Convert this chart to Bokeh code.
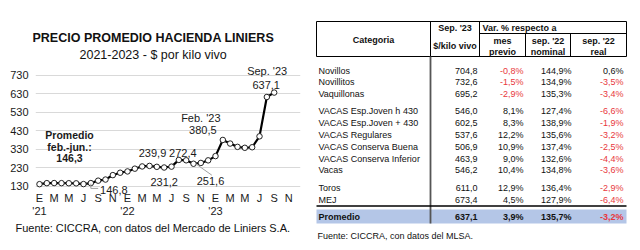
from bokeh.plotting import figure
from bokeh.layouts import row
from bokeh.models import Range1d, FixedTicker, Label, ColumnDataSource, LinearAxis, Title
from bokeh.core.properties import value
from bokeh.embed import file_html
from bokeh.resources import INLINE

FONT = "Liberation Sans"

# ---------------- chart data ----------------
meses = list(range(33))  # Jan 2021 .. Sep 2023
precio = [141.0, 146.5, 147.0, 146.5, 146.0, 145.5, 141.5, 146.8, 160.0, 166.0, 190.0, 203.0,
          210.0, 225.0, 237.0, 239.9, 235.0, 231.2, 236.0, 272.4, 270.3, 251.6, 256.0, 270.0,
          293.0, 380.5, 361.0, 343.0, 338.0, 341.0, 400.0, 613.2, 637.1]
x_ticks = list(range(0, 36, 2))
x_tick_labels = ["E", "M", "M", "J", "S", "N",
                 "E", "M", "M", "J", "S", "N",
                 "E", "M", "M", "J", "S", "N"]
year_ticks = [0, 12, 24]
year_labels = ["'21", "'22", "'23"]
y_ticks = [130, 230, 330, 430, 530, 630, 730]

# ---------------- table data ----------------
categorias = ["Novillos", "Novillitos", "Vaquillonas",
              "VACAS Esp.Joven h 430", "VACAS Esp.Joven + 430", "VACAS Regulares",
              "VACAS Conserva Buena", "VACAS Conserva Inferior", "Vacas",
              "Toros", "MEJ"]
grupos = [0, 0, 0, 1, 1, 1, 1, 1, 1, 2, 2]
kilo_vivo = [704.8, 732.6, 695.2, 546.0, 602.5, 537.6, 506.9, 463.9, 546.2, 611.0, 673.4]
mes_previo = [-0.8, -1.5, -2.9, 8.1, 8.3, 12.2, 10.9, 9.0, 10.4, 12.9, 4.5]
nominal = [144.9, 134.9, 135.3, 127.4, 138.9, 135.6, 137.4, 132.6, 134.8, 136.4, 127.9]
real = [0.6, -3.5, -3.4, -6.6, -1.9, -3.2, -2.5, -4.4, -3.6, -2.9, -6.4]
promedio = ["Promedio", 637.1, 3.9, 135.7, -3.2]

RED = "#e8383d"
H = 250

# ======================= CHART =======================
FL, FR, FT, FBM = 35, 10, 62, 54      # borders around the chart frame

p = figure(width=310, height=H, output_backend="svg", toolbar_location=None,
           x_range=Range1d(-0.545, 35.59), y_range=Range1d(74.2, 800),
           min_border_left=FL, min_border_right=FR, min_border_top=FT, min_border_bottom=FBM,
           title_location=None)
p.frame_align = False
p.outline_line_color = None
p.background_fill_color = "white"
p.border_fill_color = "white"
p.xgrid.visible = False
p.ygrid.ticker = FixedTicker(ticks=y_ticks)
p.ygrid.grid_line_color = "#d9d9d9"
p.ygrid.grid_line_width = 1

year_axis = LinearAxis(ticker=FixedTicker(ticks=year_ticks),
                       major_label_overrides={t: l for t, l in zip(year_ticks, year_labels)})
p.add_layout(year_axis, "below")

for ax in (p.xaxis[0], p.yaxis[0], year_axis):
    ax.axis_line_color = None
    ax.major_tick_line_color = None
    ax.minor_tick_line_color = None
    ax.major_tick_out = 0
    ax.major_tick_in = 0
    ax.minor_tick_out = 0
    ax.minor_tick_in = 0
    ax.major_label_text_font = FONT
    ax.major_label_text_font_size = "11px"
    ax.major_label_text_color = "#1a1a1a"
p.yaxis.ticker = FixedTicker(ticks=y_ticks)
p.yaxis.major_label_standoff = 7
p.xaxis[0].ticker = FixedTicker(ticks=x_ticks)
p.xaxis[0].major_label_overrides = {t: l for t, l in zip(x_ticks, x_tick_labels)}
p.xaxis[0].major_label_standoff = -5
year_axis.major_label_standoff = -2

p.line(meses, precio, line_color="black", line_width=2.2)
p.scatter(meses, precio, size=5.5, fill_color="white", line_color="#222222", line_width=1)

# leader lines
p.segment(x0=[meses[7], meses[7]], y0=[precio[7] - 3, 118], x1=[meses[7], meses[7] + 1.0],
          y1=[118, 118], line_color="#a0a0a0", line_width=1)
p.segment(x0=[meses[21] + 0.3], y0=[precio[21]], x1=[meses[21] + 2.5], y1=[precio[21] - 62],
          line_color="#a0a0a0", line_width=1)


def lab(x, y, text, dx=0, dy=0, size="11px", bold=False, bg=None):
    p.add_layout(Label(x=x, y=y, x_offset=dx, y_offset=dy, text=text,
                       text_align="center", text_baseline="middle",
                       text_font=FONT, text_font_size=size,
                       text_font_style="bold" if bold else "normal",
                       text_color="#1a1a1a",
                       background_fill_color=bg))


lab(meses[32], precio[32], "Sep. '23", dx=-7, dy=22)
lab(meses[32], precio[32], "637,1", dx=-8, dy=8)
lab(meses[25], precio[25], "Feb. '23", dx=-22, dy=22)
lab(meses[25], precio[25], "380,5", dx=-20, dy=10)
lab(meses[15], precio[15], "239,9", dx=3, dy=13)
lab(meses[19], precio[19], "272,4", dx=4, dy=7)
lab(meses[17], precio[17], "231,2", dx=0, dy=-14, bg="white")
lab(meses[21], precio[21], "251,6", dx=17, dy=-17.5, bg="white")
lab(meses[7], precio[7], "146,8", dx=23, dy=-7, bg="white")
lab(meses[3], precio[3], "Promedio", dx=8, dy=48, size="10.5px", bold=True)
lab(meses[3], precio[3], "feb.-jun.:", dx=8, dy=36, size="10.5px", bold=True)
lab(meses[3], precio[3], "146,3", dx=8, dy=25, size="10.5px", bold=True)

# titles (closest to frame first) and footer; offsets are relative to the frame's left edge
p.add_layout(Title(text="2021-2023 - $ por kilo vivo", align="left", offset=44,
                   text_font=FONT, text_font_size="12.5px", text_font_style="normal",
                   text_color="#111111", standoff=2), "above")
p.add_layout(Title(text="PRECIO PROMEDIO HACIENDA LINIERS", align="left", offset=-3,
                   text_font=FONT, text_font_size="12.5px", text_font_style="bold",
                   text_color="#111111", standoff=0), "above")
p.add_layout(Title(text="Fuente: CICCRA, con datos del Mercado de Liniers S.A.", align="left",
                   offset=-20, text_font=FONT, text_font_size="11px", text_font_style="normal",
                   text_color="#111111", standoff=0), "below")

# ======================= TABLE =======================
W2 = 330
t = figure(width=W2, height=H, output_backend="svg", toolbar_location=None,
           x_range=Range1d(0, W2), y_range=Range1d(H, 0), min_border=0,
           x_axis_type=None, y_axis_type=None)
t.frame_align = False
t.outline_line_color = None
t.grid.visible = False
t.background_fill_color = "white"
t.border_fill_color = "white"

L, R = 6, 316          # table left/right edges
XD = 120               # category divider
XV = 169               # "Var. %" divider
XS1, XS2 = 215, 260    # sub dividers
YT, YM, YB = 21, 33, 56
C_KILO, C_MES, C_NOM, C_REAL = 167, 213, 261, 313
C_CAT = 8

# Promedio band
t.quad(left=[L], right=[R], top=[209], bottom=[223], fill_color="#b4c6e7", line_color=None)

# header box lines
t.segment(x0=[L, L, L, R, XD, XV, XV, XS1, XS2],
          y0=[YT, YB, YT, YT, YT, YT, YM, YM, YM],
          x1=[R, R, L, R, XD, XV, R, XS1, XS2],
          y1=[YT, YB, YB, YB, YB, YB, YM, YB, YB],
          line_color="black", line_width=1)
# body divider and line above Promedio
t.segment(x0=[XD], y0=[YB], x1=[XD], y1=[223], line_color="#555555", line_width=1.8)
t.segment(x0=[L], y0=[205.5], x1=[R], y1=[205.5], line_color="black", line_width=1.5)


def ttext(xs, ys, texts, align, colors=None, bold=False, size="9px"):
    src = ColumnDataSource(dict(x=xs, y=ys, text=texts,
                                c=colors if colors else ["#111111"] * len(xs)))
    t.text(x="x", y="y", text="text", source=src, text_align=align,
           text_baseline="middle", text_color="c", text_font=value(FONT),
           text_font_size=size, text_font_style="bold" if bold else "normal")


# header texts
ttext([63], [39], ["Categoria"], "center", bold=True)
ttext([144.5, 144.5], [27.5, 45.5], ["Sep. '23", "$/kilo vivo"], "center", bold=True)
ttext([172], [27.5], ["Var. %  respecto a"], "left", bold=True)
ttext([192, 192, 237.5, 237.5, 288, 288], [40.5, 51.5, 40.5, 51.5, 40.5, 51.5],
      ["mes", "previo", "sep. '22", "nominal", "sep. '22", "real"], "center", bold=True)


def f1(v):
    return f"{v:.1f}".replace(".", ",")


ys = []
y = 70
for i, g in enumerate(grupos):
    if i > 0 and g != grupos[i - 1]:
        y += 5.5
    ys.append(y)
    y += 11.8

n = len(categorias)
ttext([C_CAT] * n, ys, categorias, "left")
ttext([C_KILO] * n, ys, [f1(v) for v in kilo_vivo], "right")
ttext([C_MES] * n, ys, [f1(v) + "%" for v in mes_previo], "right",
      colors=[RED if v < 0 else "#111111" for v in mes_previo])
ttext([C_NOM] * n, ys, [f1(v) + "%" for v in nominal], "right")
ttext([C_REAL] * n, ys, [f1(v) + "%" for v in real], "right",
      colors=[RED if v < 0 else "#111111" for v in real])

yp = 216.5
ttext([C_CAT], [yp], [promedio[0]], "left", bold=True)
ttext([C_KILO, C_MES, C_NOM], [yp] * 3, [f1(promedio[1]), f1(promedio[2]) + "%", f1(promedio[3]) + "%"],
      "right", bold=True)
ttext([C_REAL], [yp], [f1(promedio[4]) + "%"], "right", bold=True,
      colors=[RED if promedio[4] < 0 else "#111111"])

ttext([7], [235], ["Fuente: CICCRA, con datos del MLSA."], "left")

layout = row(p, t, spacing=0)
open("out.html", "w").write(file_html(layout, INLINE))
